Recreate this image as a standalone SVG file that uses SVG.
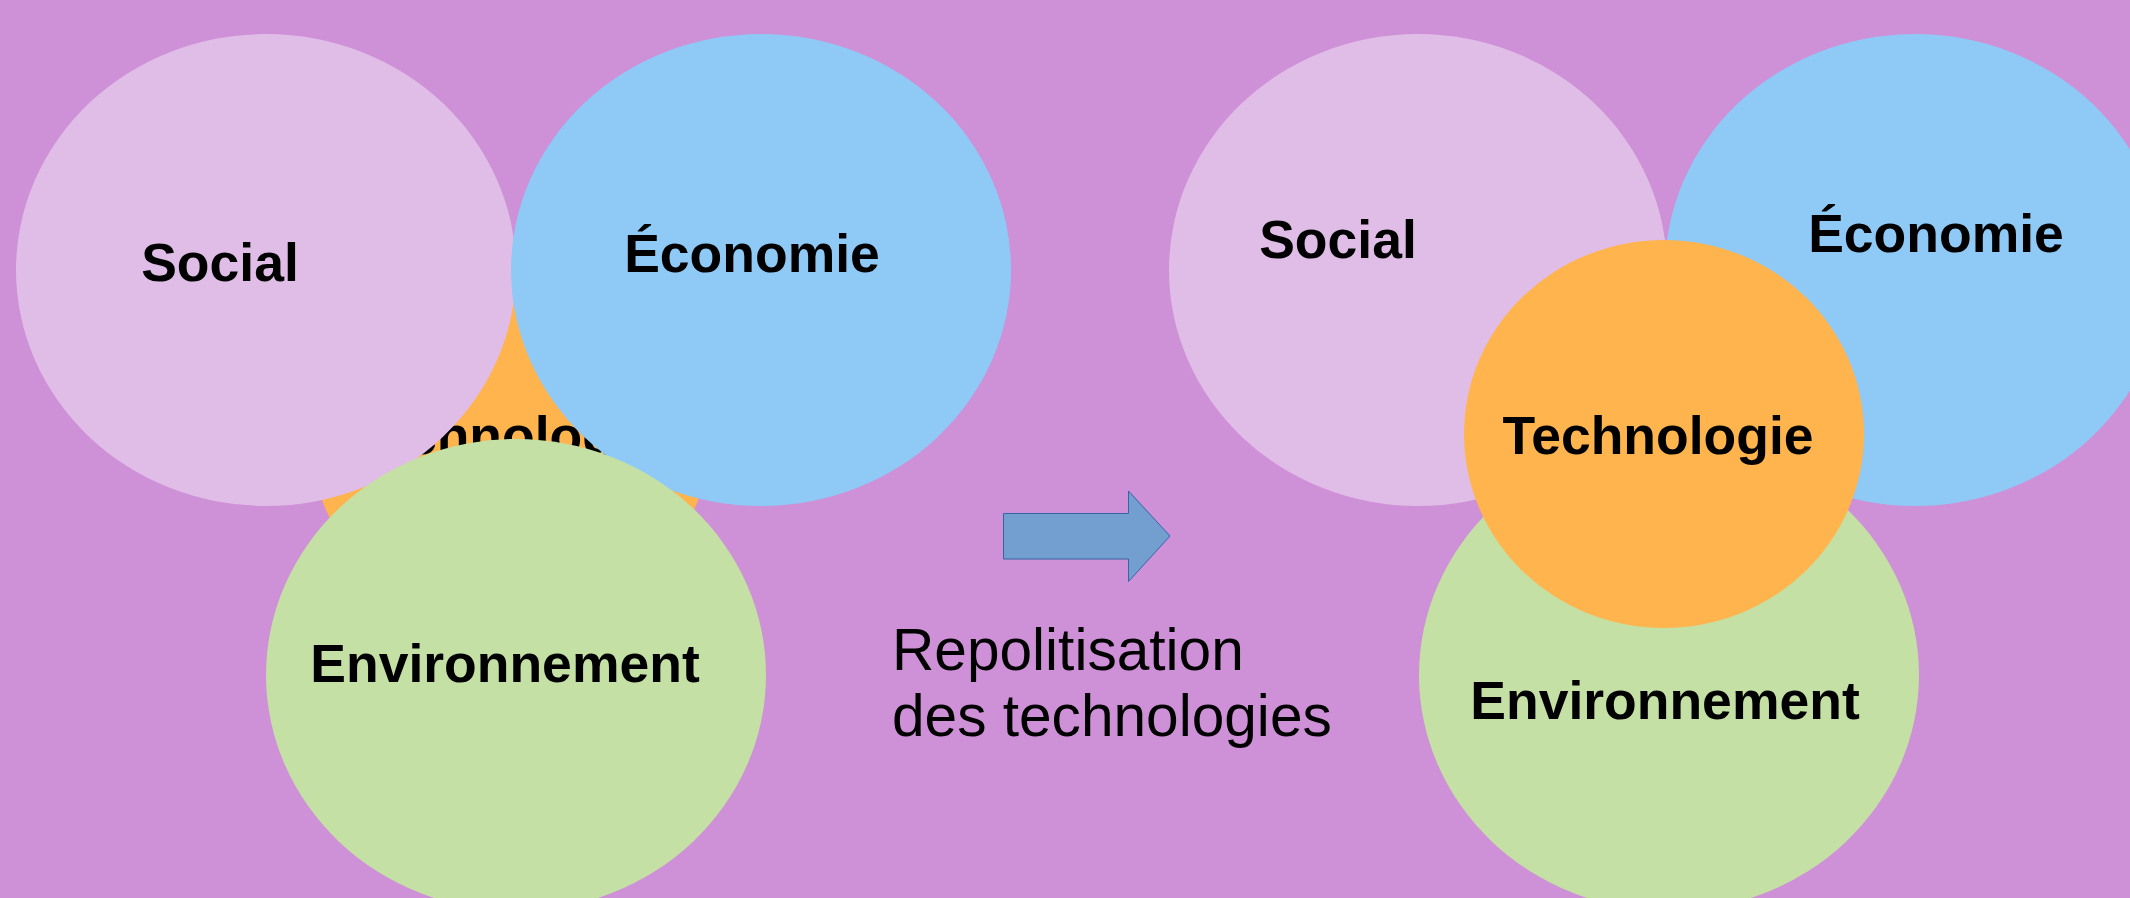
<svg xmlns="http://www.w3.org/2000/svg" width="2130" height="898" viewBox="0 0 2130 898">
<style>
.lbl{font-family:"Liberation Sans",Arial,sans-serif;font-weight:bold;font-size:53.5px;fill:#000;text-anchor:middle}
.cap{font-family:"Liberation Sans",Arial,sans-serif;font-size:58.6px;fill:#000}
.soc{fill:#e0bde6}.eco{fill:#8fc9f6}.env{fill:#c4e0a4}.tec{fill:#ffb44d}
</style>
<rect width="2130" height="898" fill="#ce90d6"/>
<g id="left">
<g id="l-tech"><ellipse class="tec" cx="510" cy="434" rx="200" ry="194"/><text class="lbl" x="504" y="454">Technologie</text></g>
<g id="l-social"><ellipse class="soc" cx="266" cy="270" rx="250" ry="236"/><text class="lbl" x="220" y="281">Social</text></g>
<g id="l-eco"><ellipse class="eco" cx="761" cy="270" rx="250" ry="236"/><text class="lbl" x="752" y="272">Économie</text></g>
<g id="l-env"><ellipse class="env" cx="516" cy="675" rx="250" ry="236"/><text class="lbl" x="505" y="682">Environnement</text></g>
</g>
<g id="connectors">
<path d="M1003.5 513.5 H1128.5 V491 L1170 536 L1128.5 581.5 V559 H1003.5 Z" fill="#729fcf" stroke="#3465a4" stroke-width="1"/>
</g>
<g id="caption"><text class="cap" x="892" y="670">Repolitisation</text><text class="cap" x="892" y="736">des technologies</text></g>
<g id="right">
<g id="r-social"><ellipse class="soc" cx="1418" cy="270" rx="249" ry="236"/><text class="lbl" x="1338" y="258">Social</text></g>
<g id="r-eco"><ellipse class="eco" cx="1915" cy="270" rx="250" ry="236"/><text class="lbl" x="1936" y="252">Économie</text></g>
<g id="r-env"><ellipse class="env" cx="1669" cy="675" rx="250" ry="236"/><text class="lbl" x="1665" y="719">Environnement</text></g>
<g id="r-tech"><ellipse class="tec" cx="1664" cy="434" rx="200" ry="194"/><text class="lbl" x="1658" y="454">Technologie</text></g>
</g>
</svg>
